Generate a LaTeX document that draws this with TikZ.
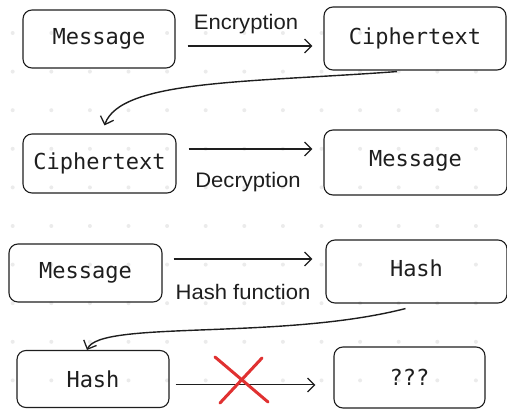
\documentclass[tikz,border=0pt]{standalone}
\usepackage{fontspec}
\setmainfont{Liberation Sans}
\newfontfamily\boxfont{DejaVu Sans Mono}
\newfontfamily\labelfont[FakeStretch=1.05]{Liberation Sans}
\usetikzlibrary{arrows.meta}
\definecolor{inkred}{HTML}{E03131}
\definecolor{griddot}{HTML}{EBEBEB}
\definecolor{ink}{HTML}{1E1E1E}

\begin{document}
\begin{tikzpicture}[
    x=1pt, y=-1pt,
    card/.style={draw=ink, rounded corners=9pt, line width=1.1pt, inner sep=0pt,
        text=ink, font=\boxfont\fontsize{22}{26}\selectfont},
    flow/.style={draw=ink, line width=1.4pt,
        -{Straight Barb[length=7pt,width=14pt,line width=1.3pt]}},
    tag/.style={text=ink, font=\labelfont\fontsize{21}{24}\selectfont},
    cross/.style={draw=inkred, line width=3pt, line cap=round}
]
\useasboundingbox (0,0) rectangle (507,409);

% dotted canvas
\foreach \i in {0,...,12}
    \foreach \j in {0,...,9}
        \fill[griddot] (12.7+38.6*\i, 33+38.6*\j) circle[radius=2pt];

% Encryption
\node[card, minimum width=152pt, minimum height=58pt] (msgA) at (99,39) {Message};
\node[card, minimum width=182pt, minimum height=63pt] (ciphA) at (415,38.5) {Ciphertext};
\draw[flow, shorten <=12pt, shorten >=11pt]
    ([yshift=-7pt]msgA.east) -- ([yshift=-7pt]msgA.east -| ciphA.west);
\node[tag] (encLbl) at (246,24) {Encryption};

% Decryption
\node[card, minimum width=153pt, minimum height=59pt] (ciphB) at (99.5,163.5) {Ciphertext};
\node[card, minimum width=183pt, minimum height=65pt, text depth=8pt] (msgB) at (415.5,162.5) {Message};
\draw[flow, shorten <=12pt, shorten >=11pt]
    ([yshift=14.5pt]ciphB.east) -- ([yshift=14.5pt]ciphB.east -| msgB.west);
\node[tag] (decLbl) at (248,182) {Decryption};

\draw[flow] ([xshift=-18pt,yshift=-1pt]ciphA.south)
    .. controls +(-147,11) and +(16,-46) .. ([xshift=5pt,yshift=8pt]ciphB.north);

% Hash function
\node[card, minimum width=153pt, minimum height=58pt] (msgC) at (85.5,273) {Message};
\node[card, minimum width=181pt, minimum height=63pt, text depth=6pt] (hashA) at (416.5,271.5) {Hash};
\draw[flow, shorten <=11pt, shorten >=13pt]
    ([yshift=14pt]msgC.east) -- ([yshift=14pt]msgC.east -| hashA.west);
\node[tag] (hashLbl) at (243,292) {Hash function};

% no way back
\node[card, minimum width=152pt, minimum height=57pt] (hashB) at (93,379) {Hash};
\node[card, minimum width=151pt, minimum height=61pt] (unknown) at (409.5,377.5) {???};
\draw[flow, line width=1pt, shorten <=6pt, shorten >=18pt]
    ([yshift=-6pt]hashB.east) -- ([yshift=-6pt]hashB.east -| unknown.west);

\draw[flow] ([xshift=-11pt,yshift=-5pt]hashA.south)
    .. controls +(-125,32) and +(13,-30) .. ([xshift=-6pt]hashB.north);

\coordinate (nogo) at (242,380);
\draw[cross] ([shift={(-27pt,23pt)}]nogo) -- ([shift={(26pt,-22pt)}]nogo);
\draw[cross] ([shift={(20pt,22pt)}]nogo) -- ([shift={(-22pt,-23pt)}]nogo);
\end{tikzpicture}
\end{document}
